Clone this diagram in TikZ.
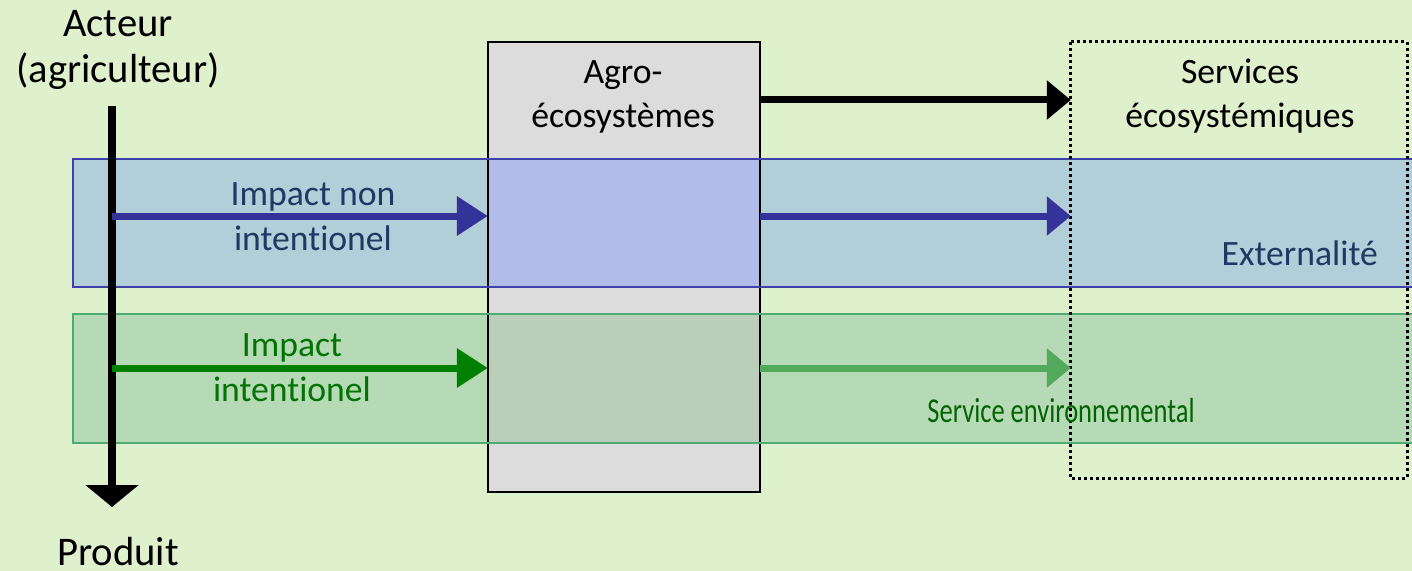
\documentclass[tikz,border=0pt]{standalone}
\usepackage{fontspec}
\setmainfont{Carlito}[Ligatures={NoCommon}]
\usetikzlibrary{arrows.meta}
\definecolor{bg}{RGB}{222,240,204}
\definecolor{boxgray}{RGB}{220,220,220}
\definecolor{bandblue}{RGB}{178,206,216}
\definecolor{bandblueline}{RGB}{64,64,170}
\definecolor{lavender}{RGB}{178,188,232}
\definecolor{bandgreen}{RGB}{182,218,182}
\definecolor{bandgreenline}{RGB}{80,170,115}
\definecolor{graygreen}{RGB}{186,206,186}
\definecolor{arrblue}{RGB}{51,51,153}
\definecolor{txtblue}{RGB}{31,56,100}
\definecolor{arrgreen}{RGB}{0,128,0}
\definecolor{arrlightgreen}{RGB}{82,170,92}
\definecolor{txtgreen}{RGB}{0,115,0}
\definecolor{txtgreendark}{RGB}{0,100,0}
\begin{document}
\begin{tikzpicture}[x=1bp,y=-1bp,
  lbl/.style={inner sep=0pt, align=center, font=\fontsize{35.8}{45}\selectfont},
  biglbl/.style={inner sep=0pt, align=center, font=\fontsize{40.8}{47}\selectfont},
  agrobox/.style={inner sep=0pt, minimum width=272bp, minimum height=450bp, fill=boxgray},
  servbox/.style={inner sep=0pt, minimum width=336bp, minimum height=436bp},
  dotline/.style={draw=black, line width=3bp, dash pattern=on 3bp off 3bp},
  longhead/.style={-{Triangle[length=31bp,width=38bp]}},
  shorthead/.style={-{Triangle[length=24bp,width=38bp]}},
  thick arrow/.style={line width=7bp},
]
\clip (0,0) rectangle (1412,571);
\fill[bg] (0,0) rectangle (1412,571);

% boxes
\node[agrobox] (agro) at (624,267) {};
\node[servbox] (serv) at (1239,260) {};

% bands (fills)
\fill[bandblue] (73,159) rectangle (1430,287);
\fill[bandgreen] (73,314) rectangle (1430,443);
\fill[lavender] (agro.west |- 0,159) rectangle (agro.east |- 0,287);
\fill[graygreen] (agro.west |- 0,314) rectangle (agro.east |- 0,443);

% borders
\draw[black, line width=1.5bp] (agro.north west) rectangle (agro.south east);
\draw[bandblueline, line width=1.5bp] (73,159) rectangle (1430,287);
\draw[bandgreenline, line width=1.5bp] (73,314) rectangle (1430,443);
\draw[dotline] (serv.north west) rectangle (serv.south east);

% texts (base = baseline of last line)
\node[biglbl, anchor=base] (acteur) at (118,83) {Acteur\\(agriculteur)};
\node[biglbl, anchor=base] (produit) at (118,565) {Produit};
\node[lbl, anchor=base] (agrotxt) at (623,128) {Agro-\\écosystèmes};
\node[lbl, anchor=base] (servtxt) at (1240,128) {Services\\écosystémiques};
\node[lbl, anchor=base, text=txtblue] (imp1) at (313,250) {Impact non\\intentionel};
\node[lbl, anchor=base east, text=txtblue] (ext) at (1378,265) {Externalité};
\node[lbl, anchor=base, text=txtgreen] (imp2) at (292,401) {Impact\\intentionel};
\node[inner sep=0pt, anchor=base, text=txtgreendark, font=\fontsize{35}{40}\selectfont] (env) at (1061,422) {\scalebox{0.76}[1]{Service environnemental}};

% connectors
\coordinate (vtop) at (112,106);
\coordinate (vbot) at (112,507);
\draw[line width=7.5bp, -{Triangle[length=22bp,width=52bp]}] (vtop) -- (vbot);

\coordinate (ytop) at (0,100);
\coordinate (yblue) at (112,216);
\coordinate (ygreen) at (112,368);

\draw[thick arrow, black, shorthead] (agro.east |- ytop) -- (serv.west |- ytop);
\draw[thick arrow, arrblue, longhead] (yblue) -- (yblue -| agro.west);
\draw[thick arrow, arrblue, shorthead] (agro.east |- yblue) -- (serv.west |- yblue);
\draw[thick arrow, arrgreen, longhead] (ygreen) -- (ygreen -| agro.west);
\draw[thick arrow, arrlightgreen, shorthead] (agro.east |- ygreen) -- (serv.west |- ygreen);
\end{tikzpicture}
\end{document}
